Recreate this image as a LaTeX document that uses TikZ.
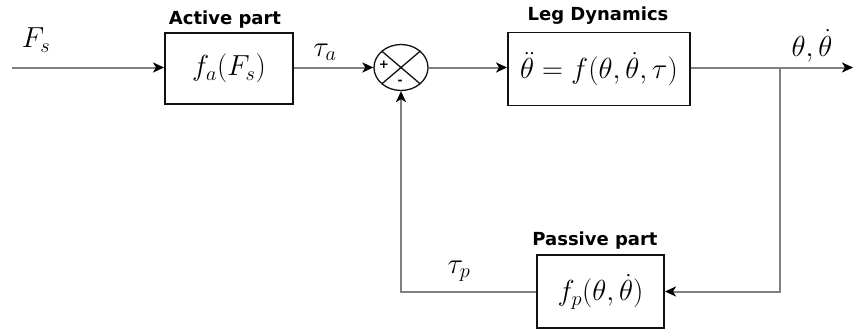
\RequirePackage{fix-cm}
\documentclass[tikz,border=0pt]{standalone}
\usepackage{amsmath}
\usepackage{fontspec}
\usetikzlibrary{arrows.meta,shapes.geometric}
\newfontfamily\labelfont{DejaVu Sans}
\definecolor{wiregray}{HTML}{808080}
\definecolor{boxblack}{HTML}{111111}

\begin{document}
\begin{tikzpicture}[x=1pt,y=-1pt,
  blk/.style={draw=boxblack,line width=1.9pt,inner sep=0pt,font=\fontsize{29}{33}\selectfont},
  sumj/.style={ellipse,draw=boxblack,line width=1.3pt,minimum width=54pt,minimum height=46pt,inner sep=0pt,
    path picture={\draw[line width=1.3pt] (path picture bounding box.north west) -- (path picture bounding box.south east)
      (path picture bounding box.south west) -- (path picture bounding box.north east);}},
  wire/.style={draw=wiregray,line width=2pt,-{Stealth[color=black,length=11pt,width=10pt,inset=3pt]}},
  ttl/.style={font=\labelfont\bfseries\fontsize{18}{20}\selectfont},
  sym/.style={font=\fontsize{29}{33}\selectfont,inner sep=1pt},
  sgn/.style={font=\labelfont\bfseries\fontsize{12}{13}\selectfont,inner sep=0pt}]
\useasboundingbox (0,0) rectangle (854,332);
\node[blk,minimum width=128pt,minimum height=71pt] (act) at (229,68.5) {$f_a(F_s)$};
\node[blk,minimum width=182pt,minimum height=73pt] (leg) at (599,69) {$\ddot{\theta}=f(\theta,\dot{\theta},\tau)$};
\node[blk,minimum width=127pt,minimum height=73pt] (pas) at (600.5,291.5) {$f_p(\theta,\dot{\theta})$};
\node[sumj] (sum) at (401,67.5) {};
\node[sgn] (plus) at (384,65) {+};
\node[sgn] (minus) at (400,82) {-};
\coordinate (in) at (12,67.5);
\coordinate (out) at (853,67.5);
\coordinate (br) at (780,67.5);
\draw[wire] (in) -- (in -| act.west);
\draw[wire] (act.east |- sum) -- (sum);
\draw[wire] (sum) -- (sum -| leg.west);
\draw[wire] (leg.east |- out) -- (out);
\draw[wire] (br) |- (pas);
\draw[wire] (pas) -| (sum);
\node[ttl] (acttitle) at (225,20) {Active part};
\node[ttl] (legtitle) at (598,16) {Leg Dynamics};
\node[ttl] (pastitle) at (595,241) {Passive part};
\node[sym] (fs) at (36,40) {$F_s$};
\node[sym] (taua) at (325,52) {$\tau_a$};
\node[sym] (outlbl) at (812,46) {$\theta,\dot{\theta}$};
\node[sym] (taup) at (459,271) {$\tau_p$};
\end{tikzpicture}
\end{document}
